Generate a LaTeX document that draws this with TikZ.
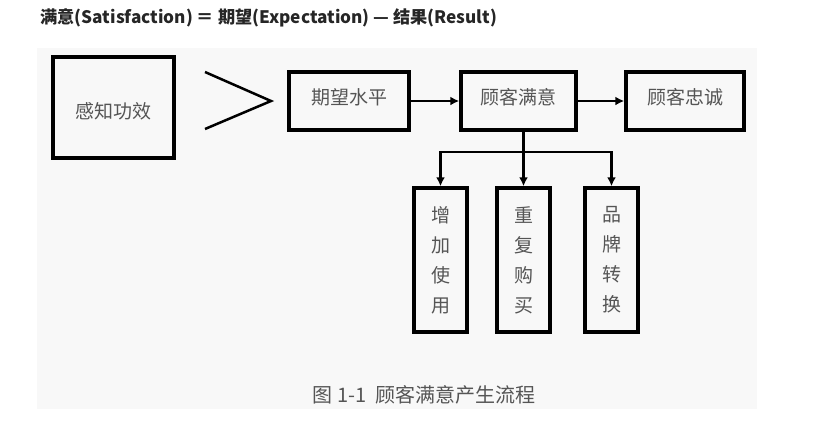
\documentclass[tikz,border=0pt]{standalone}
\usepackage{fontspec}
\newfontfamily\cjk{Noto Sans CJK SC}
\usetikzlibrary{arrows.meta,calc}
\definecolor{paper}{RGB}{248,248,248}
\definecolor{ink}{RGB}{85,85,85}

\begin{document}
\begin{tikzpicture}[x=1pt,y=-1pt,
    box/.style={draw,line width=3.5pt,inner sep=0pt,text=ink,font=\cjk\fontsize{19}{30}\selectfont},
    tallbox/.style={box,minimum width=53pt,minimum height=144pt,align=center},
    link/.style={line width=2.5pt},
    arrow/.style={link,-{Latex[length=9pt,width=9pt]}}]
    \useasboundingbox (0,0) rectangle (832,424); % page size of the reference
    \fill[paper] (37,48) rectangle (757,409);

    \node[anchor=west,font=\cjk\bfseries\fontsize{17.2}{19}\selectfont,text=black!85] (title) at (37,18)
        {满意(Satisfaction) ＝ 期望(Expectation) — 结果(Result)};

    \node[box,minimum width=121pt,minimum height=101pt] (perf) at (113.5,107.5) {\raisebox{-4pt}[\height][\depth]{感知功效}};
    \node[box,minimum width=120pt,minimum height=58pt] (expect) at (349,101) {\raisebox{4pt}[\height][\depth]{期望水平}};
    \node[box,minimum width=115pt,minimum height=58pt] (satis) at (518.5,101) {\raisebox{4pt}[\height][\depth]{顾客满意}};
    \node[box,minimum width=118pt,minimum height=58pt] (loyal) at (685,101) {\raisebox{4pt}[\height][\depth]{顾客忠诚}};

    \node[tallbox] (use) at (440.5,260) {增\\加\\使\\用};
    \node[tallbox] (buy) at (523.5,260) {重\\复\\购\\买};
    \node[tallbox] (switch) at (611.5,260) {品\\牌\\转\\换};

    % the "greater than" sign
    \coordinate (gtup) at (205,72);
    \coordinate (gttip) at (271,101);
    \coordinate (gtlow) at (205,129);
    \draw[link,line width=2.5pt] (gtup) -- (gttip) -- (gtlow);

    \draw[arrow] (expect) -- (satis);
    \draw[arrow] (satis) -- (loyal);

    \coordinate (fork) at (buy |- 0,152);
    \draw[link] (buy |- satis.south) -- (fork);
    \foreach \b in {use,buy,switch}{
        \draw[arrow] (fork) -| (\b.north);
    }

    \node[font=\cjk\fontsize{20}{22}\selectfont,text=ink] (caption) at (424,395) {图 1-1\ \ 顾客满意产生流程};
\end{tikzpicture}
\end{document}
